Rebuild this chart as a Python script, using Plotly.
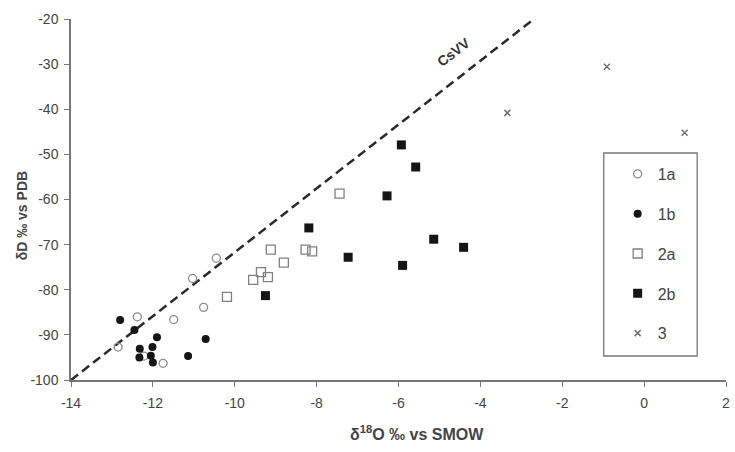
import plotly.graph_objects as go

# 1a open circles
x1a = [-10.45, -11.03, -10.76, -11.49, -12.38, -12.85, -12.22, -11.75]
y1a = [-73.0, -77.5, -83.9, -86.6, -86.0, -92.7, -94.7, -96.3]
# 1b filled circles
x1b = [-12.80, -12.45, -11.90, -12.32, -12.01, -12.33, -12.05, -12.00, -11.14, -10.71]
y1b = [-86.7, -88.9, -90.5, -93.1, -92.7, -95.0, -94.6, -96.1, -94.7, -90.9]
# 2a open squares
x2a = [-10.19, -7.44, -9.12, -8.27, -8.11, -8.80, -9.36, -9.19, -9.55]
y2a = [-81.6, -58.7, -71.1, -71.1, -71.5, -74.0, -76.1, -77.2, -77.8]
# 2b filled squares
x2b = [-5.93, -5.58, -6.28, -8.19, -5.14, -4.41, -7.23, -5.90, -9.25]
y2b = [-47.9, -52.8, -59.2, -66.3, -68.8, -70.6, -72.8, -74.6, -81.3]
# 3 crosses
x3 = [-0.91, -3.34, 0.99]
y3 = [-30.6, -40.8, -45.2]
# CsVV line end points
line_x = [-14.0, -2.55]
line_y = [-100.0, -19.0]

xticks = [-14, -12, -10, -8, -6, -4, -2, 0, 2]
yticks = [-100, -90, -80, -70, -60, -50, -40, -30, -20]

FONT = "Liberation Sans, Arial, sans-serif"
W, H = 735, 452
L, R, T, B = 71, 5, 19, 72
PW, PH = W - L - R, H - T - B


def px(xp):
    return (xp - L) / PW


def py(yp):
    return (H - B - yp) / PH


fig = go.Figure()

fig.add_trace(go.Scatter(x=line_x, y=line_y, mode="lines", showlegend=False,
                         line=dict(color="#2a2a2a", width=2.5, dash="9px,5px"), hoverinfo="skip"))

fig.add_trace(go.Scatter(x=x1a, y=y1a, mode="markers", name="1a", legendgroup="a",
                         marker=dict(symbol="circle-open", size=8, color="#8a8a8a", line=dict(width=1.3))))
fig.add_trace(go.Scatter(x=x1b, y=y1b, mode="markers", name="1b", legendgroup="b",
                         marker=dict(symbol="circle", size=8, color="#151515")))
fig.add_trace(go.Scatter(x=x2a, y=y2a, mode="markers", name="2a", legendgroup="c",
                         marker=dict(symbol="square-open", size=9, color="#808080", line=dict(width=1.3))))
fig.add_trace(go.Scatter(x=x2b, y=y2b, mode="markers", name="2b", legendgroup="d",
                         marker=dict(symbol="square", size=9, color="#151515")))
fig.add_trace(go.Scatter(x=x3, y=y3, mode="markers", name="3", legendgroup="e",
                         marker=dict(symbol="x-thin-open", size=6, color="#707070", line=dict(width=1.5))))

fig.add_annotation(x=px(456), y=py(52), xref="paper", yref="paper", text="<b>CsVV</b>", showarrow=False,
                   xanchor="center", yanchor="middle",
                   textangle=-37.7, font=dict(family=FONT, size=14, color="#333"))

# legend frame
fig.add_shape(type="rect", xref="paper", yref="paper", x0=px(607), x1=px(701), y0=py(356), y1=py(153),
              line=dict(color="#777", width=1.3), fillcolor="rgba(0,0,0,0)", layer="below")

fig.update_layout(
    width=W, height=H,
    margin=dict(l=L, r=R, t=T, b=B),
    paper_bgcolor="white", plot_bgcolor="white",
    font=dict(family=FONT, size=14, color="#444"),
    showlegend=True,
    legend=dict(x=px(621), y=py(157), xanchor="left", yanchor="top",
                borderwidth=0, bgcolor="rgba(0,0,0,0)",
                font=dict(family=FONT, size=16, color="#444"),
                traceorder="grouped", tracegroupgap=16, itemwidth=30),
    xaxis=dict(range=[-14, 2], tickvals=xticks, ticktext=[str(v) for v in xticks],
               ticks="outside", ticklen=5, tickcolor="#777", ticklabelstandoff=4,
               showline=True, linecolor="#777", linewidth=1.5, showgrid=False, zeroline=False,
               tickfont=dict(size=14, color="#444")),
    yaxis=dict(range=[-100, -20], tickvals=yticks, ticktext=[str(v) for v in yticks],
               ticks="outside", ticklen=5, tickcolor="#777", ticklabelstandoff=3,
               showline=True, linecolor="#777", linewidth=1.5, showgrid=False, zeroline=False,
               tickfont=dict(size=14, color="#444")),
)

# axis titles as annotations positioned in pixels
fig.add_annotation(x=px(419), y=py(433), xref="paper", yref="paper",
                   xanchor="center", yanchor="middle",
                   text="<b>δ<sup>18</sup>O ‰ vs SMOW</b>", showarrow=False,
                   font=dict(family=FONT, size=16, color="#444"))
fig.add_annotation(x=px(22), y=py(216), xref="paper", yref="paper",
                   xanchor="center", yanchor="middle",
                   text="<b>δD ‰ vs PDB</b>", showarrow=False, textangle=-90,
                   font=dict(family=FONT, size=14, color="#444"))

fig.write_html("out.html")
